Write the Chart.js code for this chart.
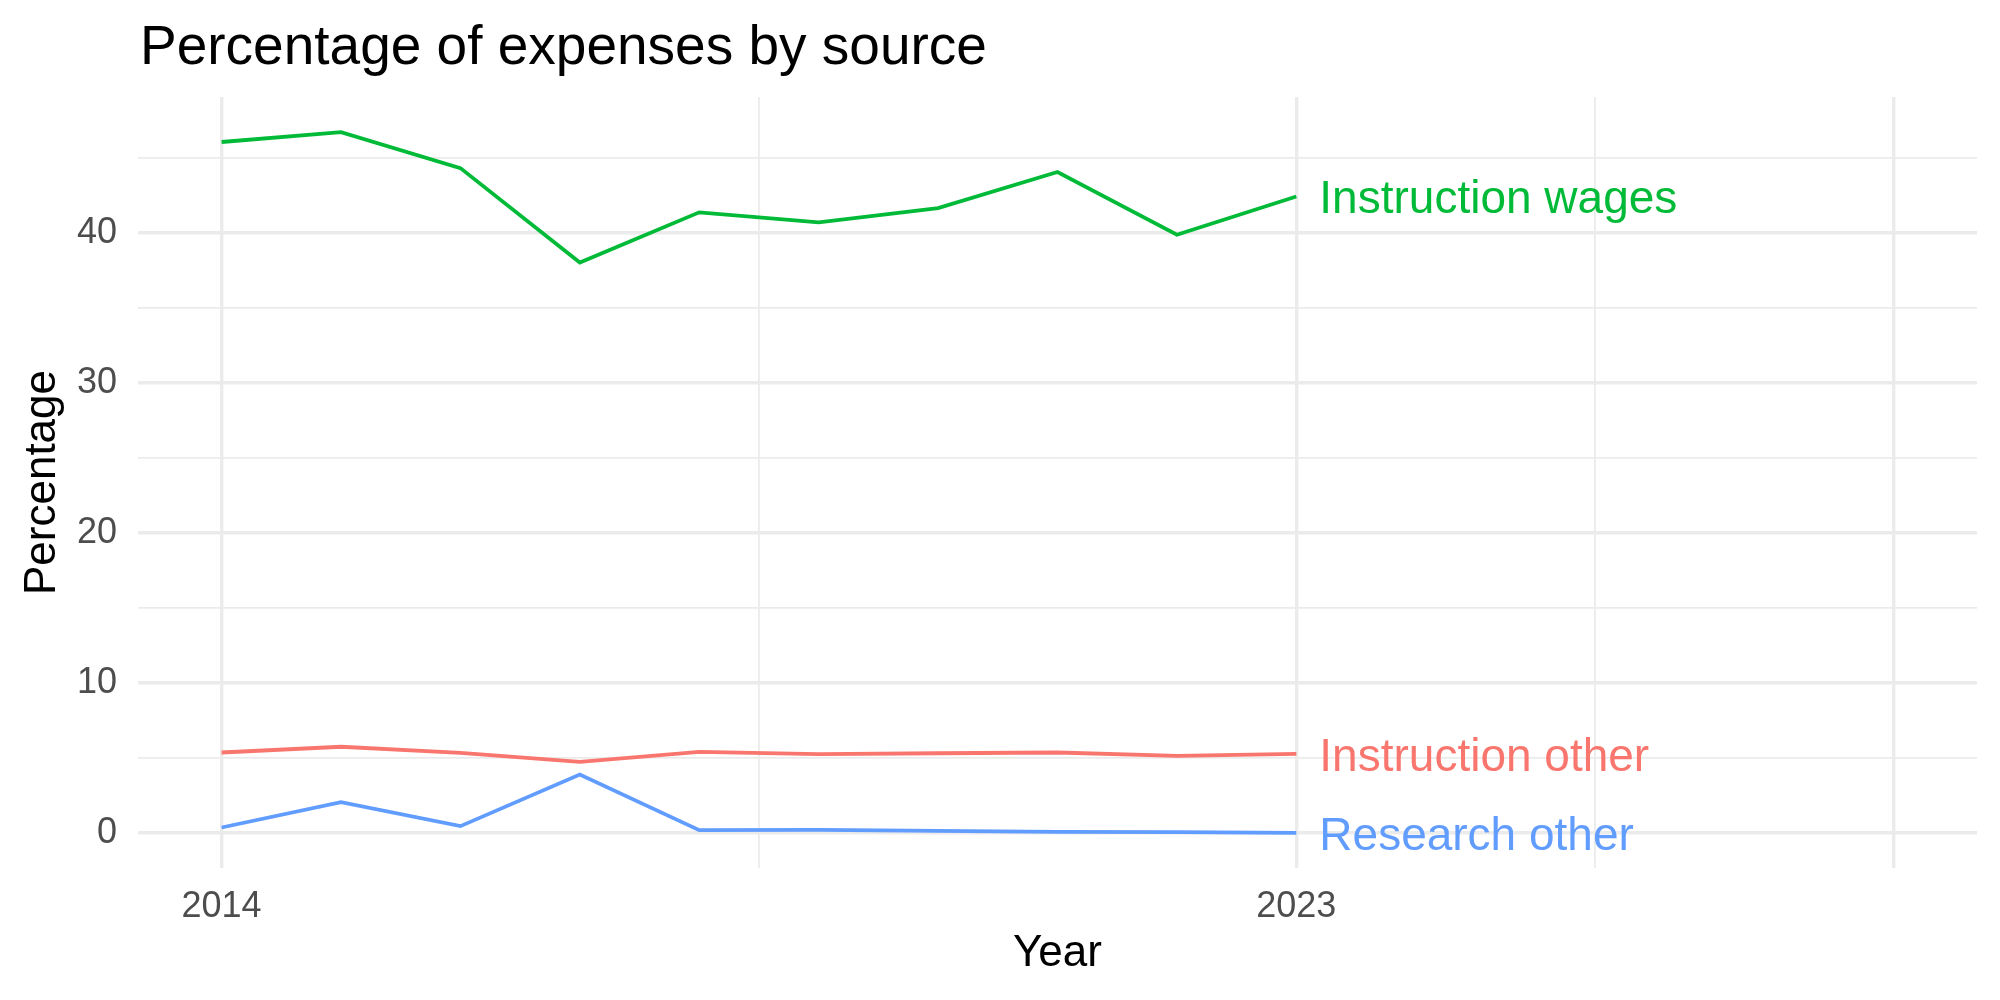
<!DOCTYPE html>
<html lang="en">
<head>
  <meta charset="UTF-8">
  <title>Percentage of expenses by source</title>
  <style>
    body {
      margin: 0;
      background: #ffffff;
    }
    .chart-container {
      width: 2000px;
      height: 1000px;
      position: relative;
    }
  </style>
</head>
<body>
  <div class="chart-container">
    <canvas id="expenseChart"></canvas>
  </div>

  <script src="https://cdn.jsdelivr.net/npm/chart.js"></script>
  <script>
    // Data
    const years = [2014, 2015, 2016, 2017, 2018, 2019, 2020, 2021, 2022, 2023];
    const instructionOther = [5.38, 5.76, 5.36, 4.76, 5.42, 5.27, 5.33, 5.38, 5.16, 5.29];
    const instructionWages = [46.07, 46.73, 44.33, 38.04, 41.38, 40.71, 41.67, 44.07, 39.89, 42.44];
    const researchOther = [0.38, 2.07, 0.47, 3.91, 0.20, 0.22, 0.16, 0.09, 0.07, 0.02];

    const seriesNames = ['Instruction other', 'Instruction wages', 'Research other'];
    const seriesColors = ['#F8766D', '#00BA38', '#619CFF'];

    const xMajorTicks = [2014, 2023, 2028];
    const xMinorTicks = [2018.5, 2025.5];
    const xTickLabels = [2014, 2023];
    const yMajorTicks = [0, 10, 20, 30, 40];
    const yMinorTicks = [5, 15, 25, 35, 45];

    const FONT = "'Liberation Sans', Arial, sans-serif";
    const GRID = '#EBEBEB';

    const seriesValues = [instructionOther, instructionWages, researchOther];

    const datasets = seriesNames.map((name, i) => ({
      label: name,
      data: years.map((yr, j) => ({ x: yr, y: seriesValues[i][j] })),
      borderColor: seriesColors[i],
      backgroundColor: seriesColors[i],
      borderWidth: 3.8,
      pointRadius: 0,
      tension: 0,
      fill: false
    }));

    // Title and end-of-line labels
    const textPlugin = {
      id: 'textPlugin',
      afterDatasetsDraw(chart) {
        const ctx = chart.ctx;
        const xs = chart.scales.x;
        const ys = chart.scales.y;
        ctx.save();
        ctx.fillStyle = '#000000';
        ctx.font = `55px ${FONT}`;
        ctx.textAlign = 'left';
        ctx.textBaseline = 'alphabetic';
        ctx.fillText('Percentage of expenses by source', 140, 64);

        ctx.font = `46px ${FONT}`;
        ctx.textBaseline = 'middle';
        seriesNames.forEach((name, i) => {
          const vals = seriesValues[i];
          const last = vals.length - 1;
          ctx.fillStyle = seriesColors[i];
          ctx.fillText(name, xs.getPixelForValue(years[last]) + 23, ys.getPixelForValue(vals[last]) + 4);
        });
        ctx.restore();
      }
    };

    const ctx = document.getElementById('expenseChart').getContext('2d');
    new Chart(ctx, {
      type: 'line',
      data: { datasets: datasets },
      plugins: [textPlugin],
      options: {
        responsive: true,
        maintainAspectRatio: false,
        animation: false,
        layout: { padding: { left: 0, right: 23, top: 97, bottom: 0 } },
        plugins: {
          legend: { display: false },
          tooltip: { enabled: false },
          title: { display: false }
        },
        scales: {
          x: {
            type: 'linear',
            min: 2013.3,
            max: 2028.7,
            afterBuildTicks: (scale) => {
              scale.ticks = [...xMajorTicks, ...xMinorTicks].sort((a, b) => a - b).map(v => ({ value: v }));
            },
            afterFit: (scale) => { scale.height = 132; },
            border: { display: false },
            grid: {
              drawTicks: false,
              color: GRID,
              lineWidth: (c) => xMajorTicks.includes(c.tick && c.tick.value) ? 3.4 : 1.8
            },
            ticks: {
              autoSkip: false,
              maxRotation: 0,
              padding: 17,
              color: '#4D4D4D',
              font: { family: FONT, size: 36 },
              callback: (v) => xTickLabels.includes(v) ? String(v) : ''
            },
            title: {
              display: true,
              text: 'Year',
              color: '#000000',
              font: { family: FONT, size: 44 },
              padding: { top: 0, bottom: 20 }
            }
          },
          y: {
            type: 'linear',
            min: -2.32,
            max: 49.07,
            afterBuildTicks: (scale) => {
              scale.ticks = [...yMajorTicks, ...yMinorTicks].sort((a, b) => a - b).map(v => ({ value: v }));
            },
            afterFit: (scale) => { scale.width = 138; },
            border: { display: false },
            grid: {
              drawTicks: false,
              color: GRID,
              lineWidth: (c) => yMajorTicks.includes(c.tick && c.tick.value) ? 3.4 : 1.8
            },
            ticks: {
              autoSkip: false,
              padding: 21,
              color: '#4D4D4D',
              font: { family: FONT, size: 36 },
              callback: (v) => yMajorTicks.includes(v) ? String(v) : ''
            },
            title: {
              display: true,
              text: 'Percentage',
              color: '#000000',
              font: { family: FONT, size: 44 },
              padding: { top: 16, bottom: 0 }
            }
          }
        }
      }
    });
  </script>
</body>
</html>
